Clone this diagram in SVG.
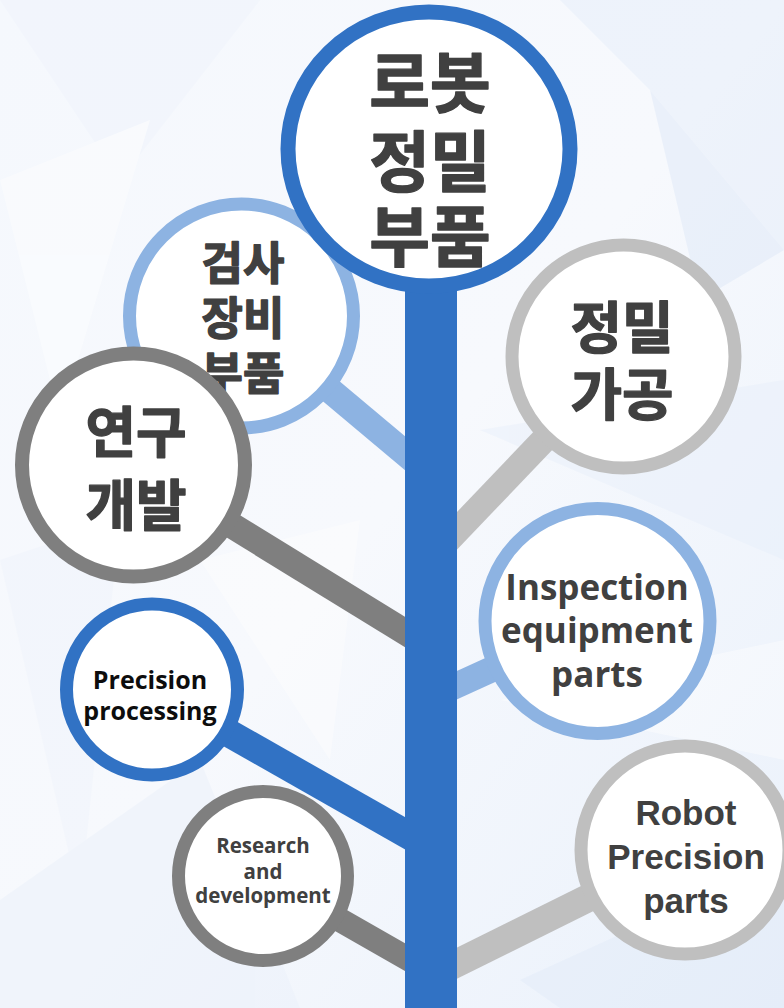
<svg xmlns="http://www.w3.org/2000/svg" width="784" height="1008" viewBox="0 0 784 1008">
<defs>
<linearGradient id="bg" x1="0" y1="0" x2="1" y2="1">
<stop offset="0" stop-color="#f5f8fd"/>
<stop offset="0.5" stop-color="#f7f9fd"/>
<stop offset="1" stop-color="#eaf1fb"/>
</linearGradient>
<style>
.node{fill:#ffffff;}
.blue{stroke:#3172c4;}
.lblue{stroke:#8db3e2;}
.gray{stroke:#7f7f7f;}
.lgray{stroke:#bfbfbf;}
.ko{font-family:"Noto Sans CJK KR","Noto Sans",sans-serif;font-weight:700;fill:#404040;stroke:#404040;stroke-width:1.4;stroke-linejoin:round;text-anchor:middle;}
.en{font-family:"Open Sans","Noto Sans",sans-serif;font-weight:700;fill:#404040;text-anchor:middle;}
.ar{font-family:"Liberation Sans",Arial,sans-serif;font-weight:700;fill:#404040;text-anchor:middle;}
.branch{fill:none;stroke-linecap:butt;}
</style>
</defs>
<rect width="784" height="1008" fill="url(#bg)"/>
<g opacity="0.4">
<polygon points="0,0 260,0 120,180" fill="#eef3fb"/>
<polygon points="560,0 784,0 784,250 650,90" fill="#e2ebf9"/>
<polygon points="650,90 784,250 700,300" fill="#d9e5f7"/>
<polygon points="0,180 150,120 60,420" fill="#ffffff"/>
<polygon points="480,430 784,380 784,560" fill="#e6eefa"/>
<polygon points="0,560 120,520 80,900" fill="#eef3fb"/>
<polygon points="0,900 200,760 300,1008 0,1008" fill="#e8effa"/>
<polygon points="500,700 784,640 784,760" fill="#ffffff"/>
<polygon points="520,980 784,860 784,1008 560,1008" fill="#dfe9f8"/>
<polygon points="200,560 360,520 330,760" fill="#ffffff"/>
</g>
<g id="connectors">
<line class="branch lblue" x1="241.5" y1="316" x2="431" y2="475" stroke-width="26"/>
<line class="branch gray" x1="133.5" y1="465" x2="431" y2="648" stroke-width="26"/>
<line class="branch lgray" x1="623.5" y1="356.5" x2="431" y2="558" stroke-width="26"/>
<line class="branch lblue" x1="597.5" y1="621" x2="431" y2="697" stroke-width="26"/>
<line class="branch blue" x1="152" y1="689.5" x2="431" y2="848" stroke-width="28"/>
<line class="branch gray" x1="263" y1="876" x2="431" y2="972" stroke-width="24"/>
<line class="branch lgray" x1="685" y1="850" x2="431" y2="976" stroke-width="28"/>
<rect id="trunk" x="405" y="250" width="52" height="758" fill="#3172c4"/>
</g>
<g id="node-inspection-ko">
<circle class="node lblue" cx="241.5" cy="316" r="112" stroke-width="13"/>
<text class="ko" font-size="45"><tspan x="243" y="280">검사</tspan><tspan x="243" y="335">장비</tspan><tspan x="243" y="390">부품</tspan></text>
</g>
<g id="node-rnd-ko">
<circle class="node gray" cx="133.5" cy="465" r="111.5" stroke-width="14"/>
<text class="ko" font-size="55"><tspan x="136" y="452">연구</tspan><tspan x="136" y="525">개발</tspan></text>
</g>
<g id="node-root">
<ellipse class="node blue" cx="429" cy="149" rx="141" ry="137" stroke-width="15"/>
<text class="ko" font-size="66"><tspan x="430" y="107">로봇</tspan><tspan x="430" y="186">정밀</tspan><tspan x="430" y="261">부품</tspan></text>
</g>
<g id="node-machining-ko">
<circle class="node lgray" cx="623.5" cy="356.5" r="111.5" stroke-width="13"/>
<text class="ko" font-size="56"><tspan x="622" y="348">정밀</tspan><tspan x="622" y="415">가공</tspan></text>
</g>
<g id="node-inspection-en">
<circle class="node lblue" cx="597.5" cy="621" r="112.5" stroke-width="13"/>
<text class="en" font-size="35"><tspan x="597" y="600">Inspection</tspan><tspan x="597" y="643">equipment</tspan><tspan x="597" y="687">parts</tspan></text>
</g>
<g id="node-precision-en">
<circle class="node blue" cx="152" cy="689.5" r="85.5" stroke-width="13"/>
<text class="en" font-size="25" style="fill:#0d0d0d"><tspan x="150" y="689">Precision</tspan><tspan x="150" y="720">processing</tspan></text>
</g>
<g id="node-rnd-en">
<circle class="node gray" cx="263" cy="876" r="84.5" stroke-width="13"/>
<text class="en" font-size="20.5"><tspan x="263" y="853">Research</tspan><tspan x="263" y="879">and</tspan><tspan x="263" y="903">development</tspan></text>
</g>
<g id="node-robot-en">
<circle class="node lgray" cx="685" cy="850" r="104" stroke-width="13"/>
<text class="ar" font-size="35"><tspan x="686" y="825">Robot</tspan><tspan x="686" y="869">Precision</tspan><tspan x="686" y="913">parts</tspan></text>
</g>
</svg>
